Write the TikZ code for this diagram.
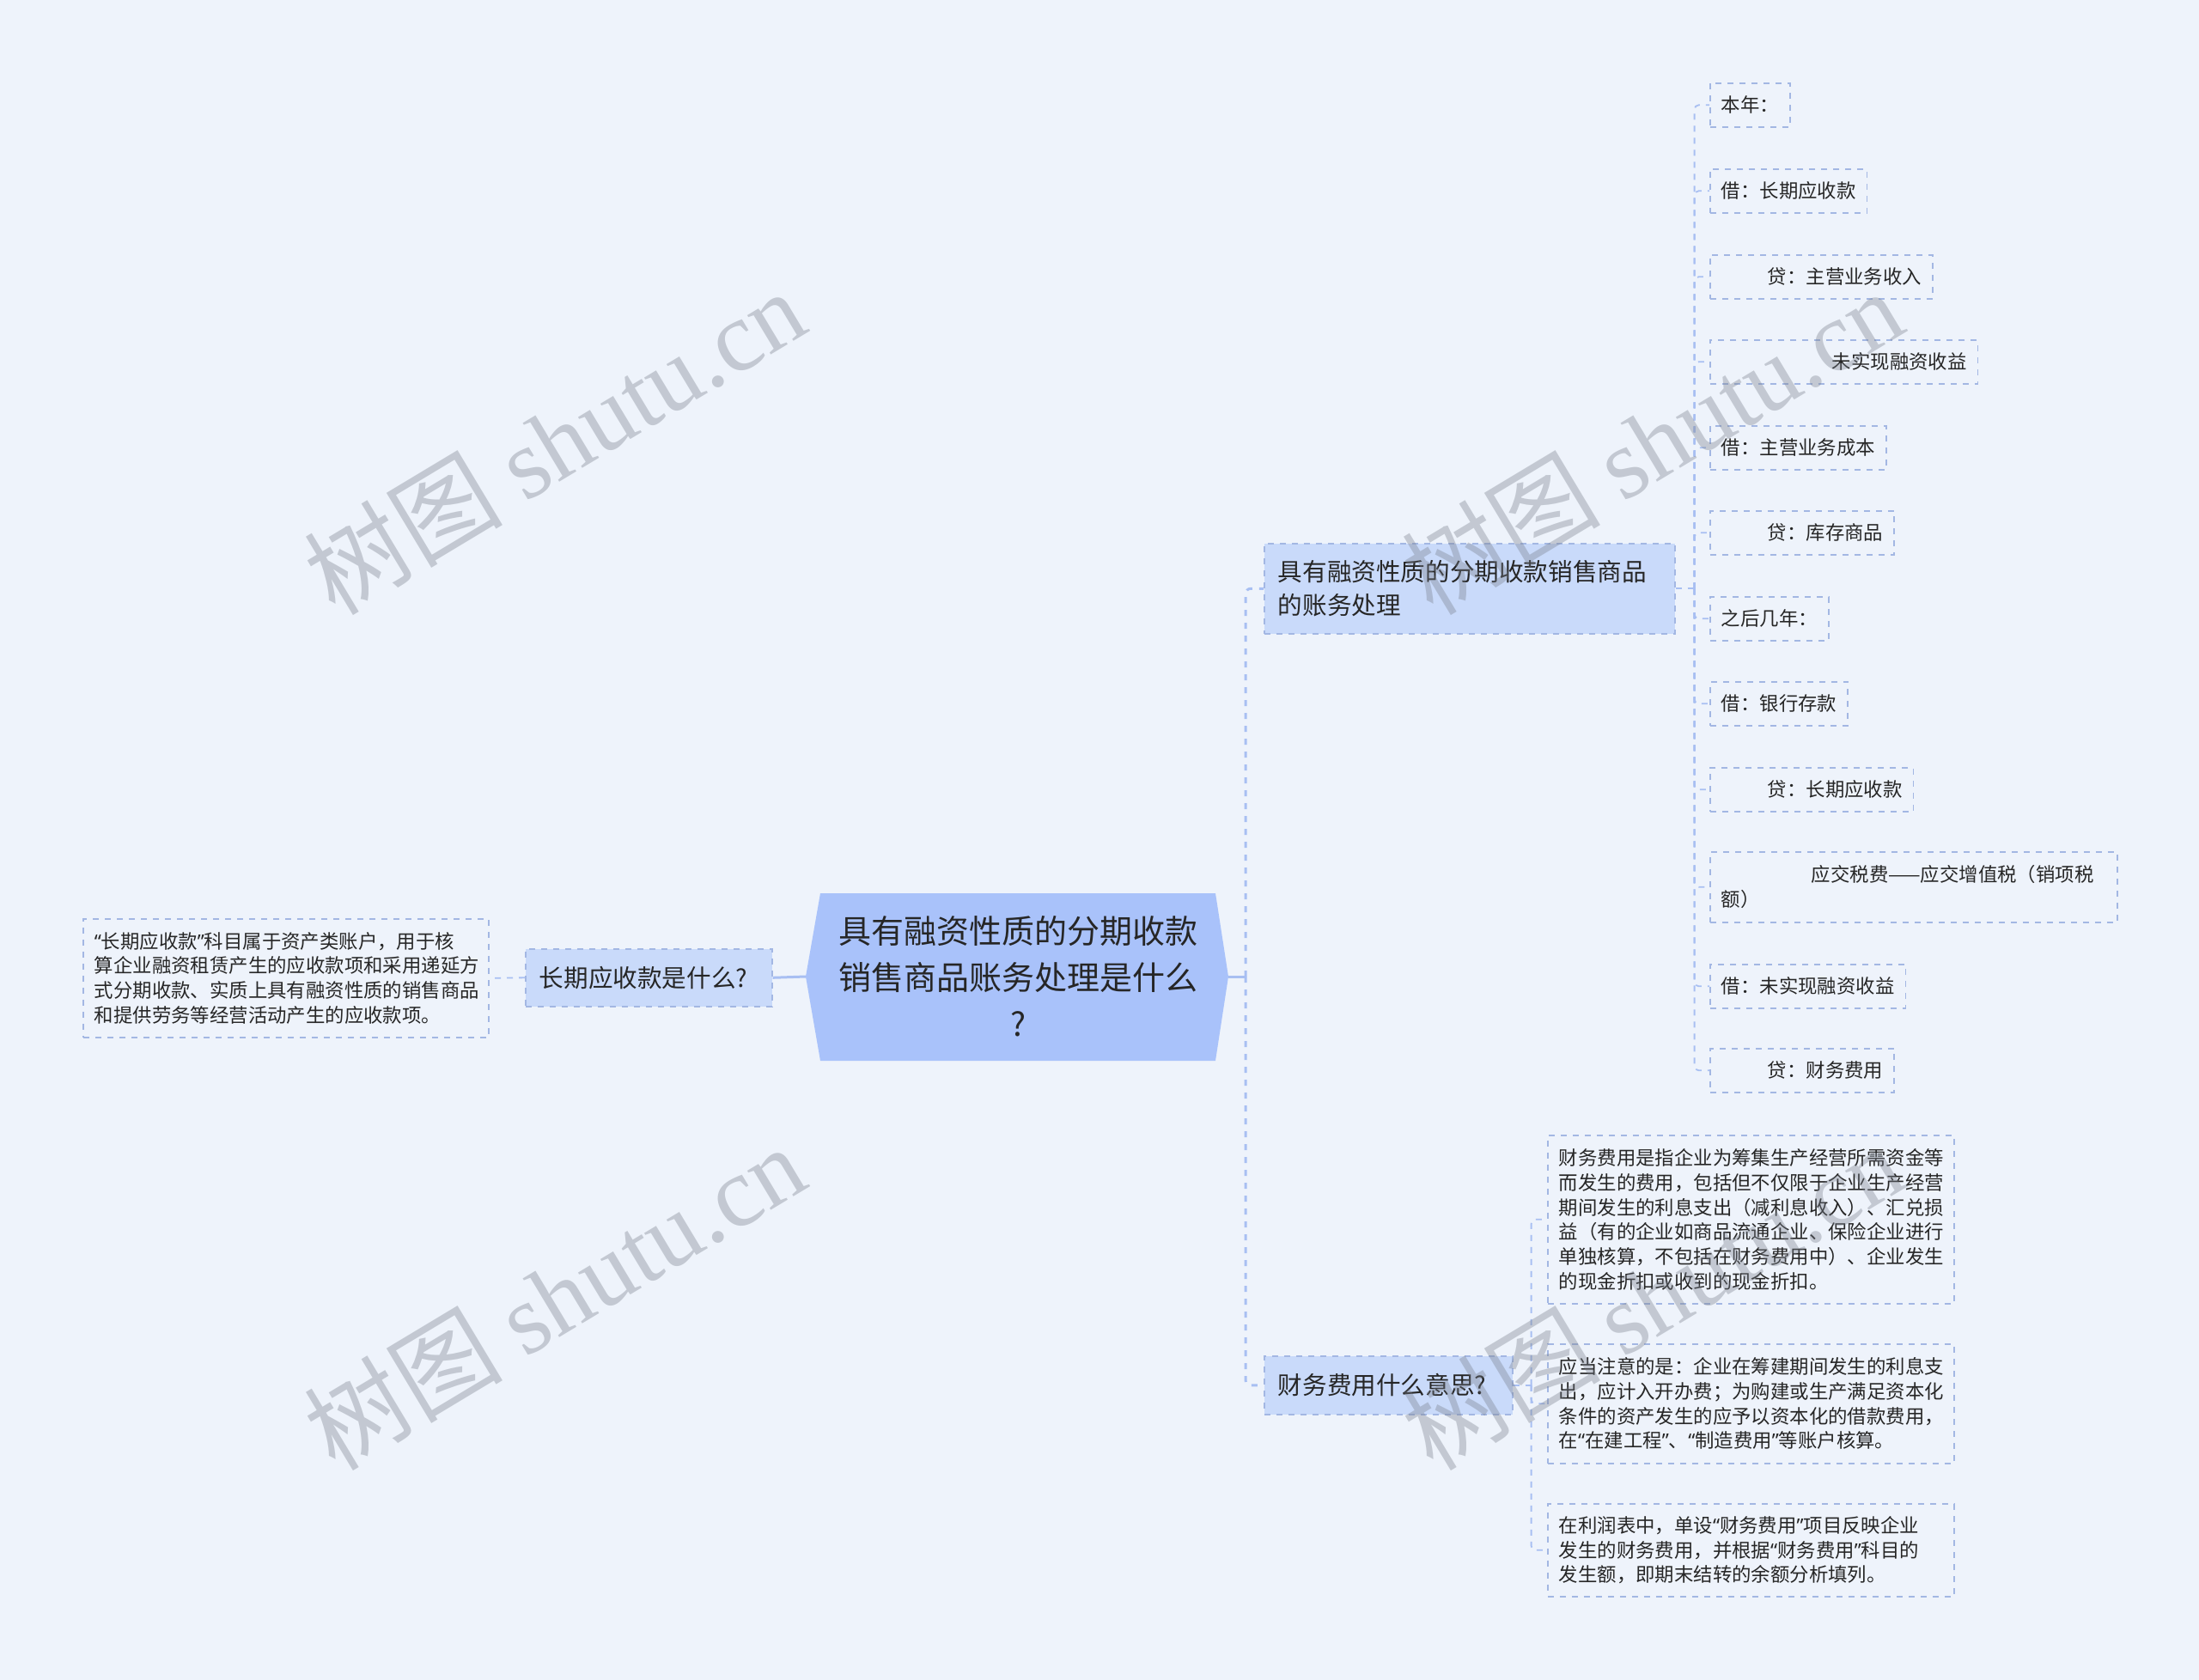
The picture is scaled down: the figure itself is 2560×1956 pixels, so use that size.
\documentclass[tikz,border=0pt]{standalone}
\usepackage{fontspec}
\setmainfont{Noto Sans CJK SC}
\newfontfamily\wmfont{Liberation Serif}
\newfontfamily\wmcjk{Noto Sans CJK SC}
\newfontfamily\qfont{Noto Sans}
\newcommand{\myLq}{{\qfont “}}
\newcommand{\myRq}{{\qfont ”}}
\definecolor{bgc}{HTML}{EEF3FB}
\definecolor{rootfill}{HTML}{A9C2FA}
\definecolor{brfill}{HTML}{C9DAFA}
\definecolor{bordc}{HTML}{A3B7E3}
\definecolor{linec}{HTML}{A8BFF2}
\definecolor{txt}{HTML}{262626}
\definecolor{wmc}{HTML}{777E8A}
\tikzset{
  leafbox/.style={draw=bordc, dash pattern=on 7pt off 7pt, line width=1.6pt,
    inner xsep=13pt, inner ysep=4pt, font=\fontsize{22.4}{28.7}\selectfont,
    text=txt, align=left, anchor=north west},
  branchbox/.style={draw=bordc, fill=brfill, dash pattern=on 7pt off 7pt, line width=1.6pt,
    inner xsep=16pt, inner ysep=4pt, font=\fontsize{28.6}{39}\selectfont,
    text=txt, align=left, anchor=north west},
  conn/.style={draw=linec, line width=3pt},
  dconn/.style={draw=linec, line width=3pt, dash pattern=on 7pt off 8pt, rounded corners=6pt},
  lconn/.style={draw=linec, line width=1.8pt, dash pattern=on 7pt off 7pt, rounded corners=5pt},
  wm/.style={text=wmc, opacity=0.36, font=\fontsize{116}{116}\selectfont, inner sep=0pt}
}
\begin{document}
\begin{tikzpicture}[x=1pt,y=-1pt]
\useasboundingbox (0,0) rectangle (2560,1956);
\fill[bgc] (0,0) rectangle (2560,1956);

% root
\fill[rootfill] (955,1040) -- (1415,1040) -- (1430,1137) -- (1415,1235) -- (955,1235) -- (938,1137) -- cycle;
\node[text=txt, align=center, font=\fontsize{38}{54}\selectfont, inner sep=0pt] (root) at (1185,1137)
  {具有融资性质的分期收款\\销售商品账务处理是什么\\?};
\coordinate (rootL) at (938,1137);
\coordinate (rootR) at (1430,1137);
\coordinate (tj) at (1450,1137);

% left side
\node[branchbox, text width=255pt, minimum height=67pt] (q) at (611,1104) {长期应收款是什么?};
\node[leafbox, text width=446pt, minimum height=138pt] (qd) at (96,1069)
  {\myLq 长期应收款\myRq 科目属于资产类账户，用于核\\算企业融资租赁产生的应收款项和采用递延方\\式分期收款、实质上具有融资性质的销售商品\\和提供劳务等经营活动产生的应收款项。};

% right branches
\node[branchbox, text width=446pt, minimum height=105pt] (b1) at (1471,632)
  {具有融资性质的分期收款销售商品\\的账务处理};
\node[branchbox, text width=257pt, minimum height=68pt] (b2) at (1471,1578) {财务费用什么意思?};

% leaves of b1
\node[leafbox, minimum height=51pt] (k1) at (1990,96) {本年：};
\node[leafbox, minimum height=51pt] (k2) at (1990,196) {借：长期应收款};
\node[leafbox, minimum height=51pt] (k3) at (1990,296) {\hspace*{54pt}贷：主营业务收入};
\node[leafbox, minimum height=51pt] (k4) at (1990,395) {\hspace*{129pt}未实现融资收益};
\node[leafbox, minimum height=51pt] (k5) at (1990,495) {借：主营业务成本};
\node[leafbox, minimum height=51pt] (k6) at (1990,594) {\hspace*{54pt}贷：库存商品};
\node[leafbox, minimum height=51pt] (k7) at (1990,694) {之后几年：};
\node[leafbox, minimum height=51pt] (k8) at (1990,793) {借：银行存款};
\node[leafbox, minimum height=51pt] (k9) at (1990,893) {\hspace*{54pt}贷：长期应收款};
\node[leafbox, text width=448pt, minimum height=82pt] (k10) at (1990,991) {\hspace*{105pt}应交税费——应交增值税（销项税\\额）};
\node[leafbox, minimum height=51pt] (k11) at (1990,1122) {借：未实现融资收益};
\node[leafbox, minimum height=51pt] (k12) at (1990,1220) {\hspace*{54pt}贷：财务费用};

% leaves of b2
\node[leafbox, text width=447pt, minimum height=196pt] (m1) at (1801,1321)
  {财务费用是指企业为筹集生产经营所需资金等\\而发生的费用，包括但不仅限于企业生产经营\\期间发生的利息支出（减利息收入）、汇兑损\\益（有的企业如商品流通企业、保险企业进行\\单独核算，不包括在财务费用中）、企业发生\\的现金折扣或收到的现金折扣。};
\node[leafbox, text width=447pt, minimum height=139pt] (m2) at (1801,1564)
  {应当注意的是：企业在筹建期间发生的利息支\\出，应计入开办费；为购建或生产满足资本化\\条件的资产发生的应予以资本化的借款费用，\\在\myLq 在建工程\myRq 、\myLq 制造费用\myRq 等账户核算。};
\node[leafbox, text width=447pt, minimum height=108pt] (m3) at (1801,1750)
  {在利润表中，单设\myLq 财务费用\myRq 项目反映企业\\发生的财务费用，并根据\myLq 财务费用\myRq 科目的\\发生额，即期末结转的余额分析填列。};

% connectors
\draw[conn] (rootR) -- (tj);
\draw[dconn] (tj) |- (b1.west);
\draw[dconn] (tj) |- (b2.west);
\draw[conn] (rootL) -- (q.east);
\draw[lconn] (q.west) -- (qd.east);

\coordinate (j1) at ([xshift=22pt]b1.east);
\draw[lconn] (b1.east) -- (j1);
\foreach \k in {k1,k2,k3,k4,k5,k6,k7,k8,k9,k10,k11,k12}
  \draw[lconn] (j1) |- (\k.west);

\coordinate (j2) at ([xshift=21pt]b2.east);
\draw[lconn] (b2.east) -- (j2);
\foreach \k in {m1,m2,m3}
  \draw[lconn] (j2) |- (\k.west);

% watermarks
\node[wm, rotate=31] (w1) at (645,514) {{\wmcjk 树图} {\wmfont shutu.cn}};
\node[wm, rotate=31] (w2) at (1923,514) {{\wmcjk 树图} {\wmfont shutu.cn}};
\node[wm, rotate=31] (w3) at (645,1510) {{\wmcjk 树图} {\wmfont shutu.cn}};
\node[wm, rotate=31] (w4) at (1923,1510) {{\wmcjk 树图} {\wmfont shutu.cn}};
\end{tikzpicture}
\end{document}
